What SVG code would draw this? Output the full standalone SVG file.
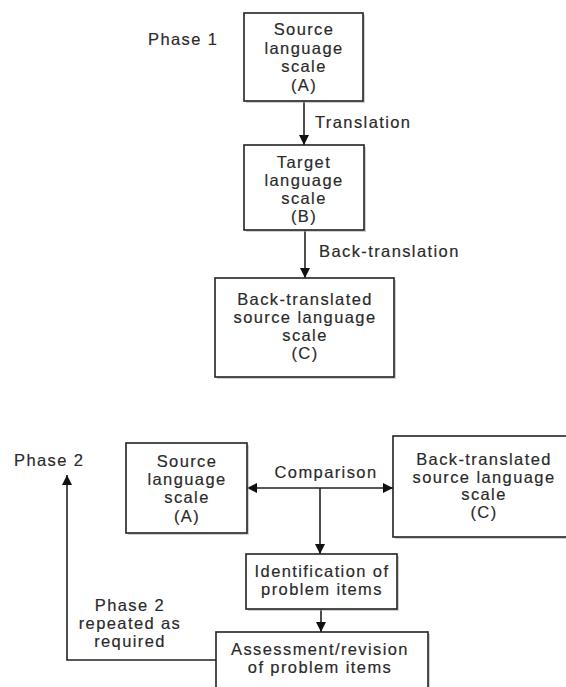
<svg xmlns="http://www.w3.org/2000/svg" width="566" height="687" viewBox="0 0 566 687">
<style>
  .box { fill: #fff; stroke: #222; stroke-width: 1.6; }
  .shadow { fill: #aaa; opacity: 0.55; }
  .t { font-family: "Liberation Sans", Arial, sans-serif; font-size: 16.5px; letter-spacing: 1.4px; fill: #2a2a2a; stroke: #2a2a2a; stroke-width: 0.18; }
  .c { text-anchor: middle; }
  .edge { fill: none; stroke: #222; stroke-width: 1.6; }
</style>
<defs>
  <marker id="arr" viewBox="0 0 10 10" refX="10" refY="5" markerWidth="10" markerHeight="10" markerUnits="userSpaceOnUse" orient="auto">
    <path d="M0,0 L10,5 L0,10 Z" fill="#111"/>
  </marker>
</defs>
<rect width="566" height="687" fill="#fff"/>

<text class="t" x="148" y="45">Phase 1</text>
<text class="t" x="14" y="466">Phase 2</text>

<g id="connectors">
  <line class="edge" x1="304" y1="101" x2="304" y2="145" marker-end="url(#arr)"/>
  <text class="t" x="315" y="128">Translation</text>
  <line class="edge" x1="305" y1="230" x2="305" y2="278" marker-end="url(#arr)"/>
  <text class="t" x="319" y="257">Back-translation</text>
  <line class="edge" x1="320" y1="488" x2="247" y2="488" marker-end="url(#arr)"/>
  <line class="edge" x1="320" y1="488" x2="393" y2="488" marker-end="url(#arr)"/>
  <text class="t c" x="326" y="478">Comparison</text>
  <line class="edge" x1="320" y1="488" x2="320" y2="554" marker-end="url(#arr)"/>
  <line class="edge" x1="321" y1="609" x2="321" y2="632" marker-end="url(#arr)"/>
  <polyline class="edge" points="216,660 67,660 67,475" marker-end="url(#arr)"/>
  <text class="t c" x="130" y="611">Phase 2</text>
  <text class="t c" x="130" y="629">repeated as</text>
  <text class="t c" x="130" y="647">required</text>
</g>

<g id="nodeA">
  <rect class="shadow" x="246" y="15" width="119" height="88"/>
  <rect class="box" x="244" y="13" width="119" height="88"/>
  <text class="t c" x="304" y="35">Source</text>
  <text class="t c" x="304" y="53.5">language</text>
  <text class="t c" x="304" y="72">scale</text>
  <text class="t c" x="304" y="90.5">(A)</text>
</g>

<g id="nodeB">
  <rect class="shadow" x="246" y="147" width="120" height="85"/>
  <rect class="box" x="244" y="145" width="120" height="85"/>
  <text class="t c" x="304" y="168">Target</text>
  <text class="t c" x="304" y="186">language</text>
  <text class="t c" x="304" y="204">scale</text>
  <text class="t c" x="304" y="222">(B)</text>
</g>

<g id="nodeC">
  <rect class="shadow" x="217" y="280" width="179" height="99"/>
  <rect class="box" x="215" y="278" width="179" height="99"/>
  <text class="t c" x="305" y="305">Back-translated</text>
  <text class="t c" x="305" y="323">source language</text>
  <text class="t c" x="305" y="341">scale</text>
  <text class="t c" x="305" y="359">(C)</text>
</g>

<g id="nodeA2">
  <rect class="shadow" x="128" y="445" width="121" height="90"/>
  <rect class="box" x="126" y="443" width="121" height="90"/>
  <text class="t c" x="187" y="467">Source</text>
  <text class="t c" x="187" y="485">language</text>
  <text class="t c" x="187" y="503">scale</text>
  <text class="t c" x="187" y="522">(A)</text>
</g>

<g id="nodeC2">
  <rect class="shadow" x="395" y="438" width="180" height="101"/>
  <rect class="box" x="393" y="436" width="180" height="101"/>
  <text class="t c" x="484" y="465">Back-translated</text>
  <text class="t c" x="484" y="483">source language</text>
  <text class="t c" x="484" y="500">scale</text>
  <text class="t c" x="484" y="518">(C)</text>
</g>

<g id="nodeIdent">
  <rect class="shadow" x="248" y="556" width="151" height="55"/>
  <rect class="box" x="246" y="554" width="151" height="55"/>
  <text class="t c" x="322" y="577">Identification of</text>
  <text class="t c" x="322" y="595">problem items</text>
</g>

<g id="nodeAssess">
  <rect class="shadow" x="218" y="634" width="212" height="60"/>
  <rect class="box" x="216" y="632" width="212" height="60"/>
  <text class="t c" x="320" y="655">Assessment/revision</text>
  <text class="t c" x="320" y="673">of problem items</text>
</g>
</svg>
